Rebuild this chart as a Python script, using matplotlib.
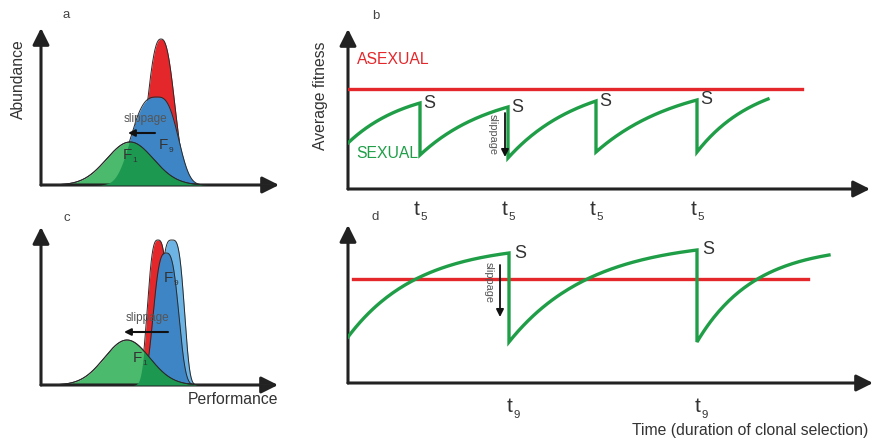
import numpy as np
import matplotlib
matplotlib.use("Agg")
import matplotlib.pyplot as plt

plt.rcParams['font.family'] = ['Liberation Sans', 'DejaVu Sans']

# ---------------- data (schematic units measured from each panel origin) ----
# panel a: distributions (red = asexual, blue = clone F9, green = sexual F1)
a_centers = [120, 116, 89]
a_heights = [146, 88, 43]
a_sig_left = [17, 31, 33]
a_sig_right = [17, 25, 33]
a_powers = [2.5, 3, 2]

# panel c: red, light blue, dark blue, green
c_centers = [117, 131, 125, 86]
c_heights = [145, 145, 132, 45]
c_sig_left = [12.5, 14, 15, 32]
c_sig_right = [12.5, 14, 15, 32]
c_powers = [3, 3.5, 3, 2]

# panel b: sawtooth of sexual fitness, constant asexual fitness
b_drop_times = [72, 160, 248, 349]
b_end_time = 420
b_start = 46
b_peaks = [86, 82, 88, 89, 90]
b_troughs = [34, 31, 37, 37]
b_asexual = 100
b_asexual_span = [0, 454]
b_tick_subs = ['5', '5', '5', '5']

# panel d
d_drop_times = [161, 349]
d_end_time = 481
d_start = 46
d_peaks = [130, 133, 128]
d_troughs = [41, 41]
d_asexual = 104
d_asexual_span = [5, 460]
d_tick_subs = ['9', '9']

RED = '#e4272b'
GREEN_LINE = '#1f9e47'
GREEN_FILL = '#4cba6d'
GREEN_DARK = '#1c9850'
BLUE = '#3e85c6'
LBLUE = '#6db3e3'
EDGE = '#2a2a2a'
AXC = '#222222'
TXT = '#333333'

W, H = 875, 442
fig = plt.figure(figsize=(W / 100, H / 100), dpi=100)


def panel(ox, oy, w, h):
    ax = fig.add_axes([ox / W, 1 - oy / H, w / W, h / H])
    ax.set_xlim(0, w)
    ax.set_ylim(0, h)
    ax.axis('off')
    for tip in [(w, 0), (0, h)]:
        ax.annotate('', xy=tip, xytext=(0, 0), annotation_clip=False,
                    arrowprops=dict(arrowstyle='-|>', lw=2.2, color=AXC,
                                    mutation_scale=25, shrinkA=0, shrinkB=0))
    return ax


def subtext(ax, x, y, base, sub, size, ha='center', dx=None):
    ax.text(x, y, base, fontsize=size, color=TXT, ha=ha, va='center', zorder=6)
    if dx is None:
        dx = 0.16 * size if ha == 'center' else 0.62 * size
    ax.annotate(sub, xy=(x, y), xytext=(dx, -0.36 * size), textcoords='offset points',
                annotation_clip=False, fontsize=size * 0.55, color=TXT,
                ha='left', va='center', zorder=6)


def bump(x, c, h, sl, sr, p):
    s = np.where(x < c, sl, sr)
    return h * np.exp(-np.abs((x - c) / s) ** p)


def sawtooth(start, drops, end, peaks, troughs, k):
    xs, ys = [], []
    t0, v0 = 0, start
    times = list(drops) + [end]
    for i, t1 in enumerate(times):
        s = np.linspace(0, 1, 80)
        f = (1 - np.exp(-k * s)) / (1 - np.exp(-k))
        xs.extend(t0 + (t1 - t0) * s)
        ys.extend(v0 + (peaks[i] - v0) * f)
        if i < len(drops):
            t0, v0 = t1, troughs[i]
            xs.append(t0)
            ys.append(v0)
    return np.array(xs), np.array(ys)


# ---------------- panel a ----------------
axa = panel(41, 185, 238, 157)
x = np.linspace(0, 230, 800)
ya = [bump(x, a_centers[i], a_heights[i], a_sig_left[i], a_sig_right[i], a_powers[i])
      for i in range(3)]
for y, col in zip(ya, [RED, BLUE, GREEN_FILL]):
    axa.fill_between(x, 0, y, color=col, lw=0, zorder=2)
    axa.plot(x, y, color=EDGE, lw=0.7, zorder=2)
over = np.minimum(ya[2], np.maximum(ya[0], ya[1]))
axa.fill_between(x, 0, over, color=GREEN_DARK, lw=0, zorder=3)
axa.plot(x, ya[2], color=EDGE, lw=0.7, zorder=3)
axa.text(25, 170, 'a', fontsize=9.5, color='#444', ha='center', va='center')
axa.text(-23, 106, 'Abundance', rotation=90, fontsize=11.3, color=TXT,
         ha='center', va='center')
axa.text(104, 66, 'slippage', fontsize=8.5, color='#555', ha='center', va='center', zorder=5)
axa.annotate('', xy=(87, 52), xytext=(114, 52),
             arrowprops=dict(arrowstyle='-|>', lw=1.5, color='#111',
                             mutation_scale=10, shrinkA=0, shrinkB=0), zorder=5)
subtext(axa, 118, 40, 'F', '9', 11, ha='left')
subtext(axa, 82, 30, 'F', '1', 11, ha='left')

# ---------------- panel c ----------------
axc = panel(41, 385, 237, 158)
yc = [bump(x, c_centers[i], c_heights[i], c_sig_left[i], c_sig_right[i], c_powers[i])
      for i in range(4)]
for y, col in zip(yc, [RED, LBLUE, BLUE, GREEN_FILL]):
    axc.fill_between(x, 0, y, color=col, lw=0, zorder=2)
    axc.plot(x, y, color=EDGE, lw=0.7, zorder=2)
overc = np.minimum(yc[3], np.maximum.reduce(yc[:3]))
axc.fill_between(x, 0, overc, color=GREEN_DARK, lw=0, zorder=3)
axc.plot(x, yc[3], color=EDGE, lw=0.7, zorder=3)
axc.text(26, 167, 'c', fontsize=9.5, color='#444', ha='center', va='center')
axc.text(106, 67, 'slippage', fontsize=8.5, color='#555', ha='center', va='center', zorder=5)
axc.annotate('', xy=(83, 53), xytext=(127, 53),
             arrowprops=dict(arrowstyle='-|>', lw=1.5, color='#111',
                             mutation_scale=10, shrinkA=0, shrinkB=0), zorder=5)
subtext(axc, 123, 107, 'F', '9', 11, ha='left')
subtext(axc, 92, 27, 'F', '1', 11, ha='left')
axc.text(192, -15, 'Performance', fontsize=11.3, color=TXT, ha='center', va='center')

# ---------------- panel b ----------------
axb = panel(348, 189, 522, 160)
axb.plot(b_asexual_span, [b_asexual, b_asexual], color=RED, lw=2.4, zorder=3)
xb, yb = sawtooth(b_start, b_drop_times, b_end_time, b_peaks, b_troughs, 1.2)
axb.plot(xb, yb, color=GREEN_LINE, lw=2.4, solid_joinstyle='miter', zorder=4)
for t, v in zip(b_drop_times, b_peaks):
    axb.text(t + 3, v, 'S', fontsize=13, color=TXT, va='center', ha='left')
for t, sub in zip(b_drop_times, b_tick_subs):
    subtext(axb, t - 3, -20, 't', sub, 15)
axb.text(28, 173, 'b', fontsize=9.5, color='#444', ha='center', va='center')
axb.text(-28, 93, 'Average fitness', rotation=90, fontsize=11.3, color=TXT,
         ha='center', va='center')
axb.text(9, 130, 'ASEXUAL', fontsize=11.3, color=RED, ha='left', va='center')
axb.text(8, 35, 'SEXUAL', fontsize=11.3, color=GREEN_LINE, ha='left', va='center')
axb.annotate('', xy=(157, 32), xytext=(157, 76),
             arrowprops=dict(arrowstyle='-|>', lw=1.3, color='#111',
                             mutation_scale=11, shrinkA=0, shrinkB=0), zorder=5)
axb.text(145, 54, 'slippage', rotation=-90, fontsize=7.8, color='#555',
         ha='center', va='center')

# ---------------- panel d ----------------
axd = panel(348, 383, 525, 158)
axd.plot(d_asexual_span, [d_asexual, d_asexual], color=RED, lw=2.4, zorder=3)
xd, yd = sawtooth(d_start, d_drop_times, d_end_time, d_peaks, d_troughs, 2.3)
axd.plot(xd, yd, color=GREEN_LINE, lw=2.4, solid_joinstyle='miter', zorder=4)
for t, v in zip(d_drop_times, d_peaks):
    axd.text(t + 5, v, 'S', fontsize=13, color=TXT, va='center', ha='left')
for t, sub in zip(d_drop_times, d_tick_subs):
    subtext(axd, t + 1, -24, 't', sub, 15)
axd.text(27, 166, 'd', fontsize=9.5, color='#444', ha='center', va='center')
axd.annotate('', xy=(152, 66), xytext=(152, 118),
             arrowprops=dict(arrowstyle='-|>', lw=1.3, color='#111',
                             mutation_scale=11, shrinkA=0, shrinkB=0), zorder=5)
axd.text(141, 100, 'slippage', rotation=-90, fontsize=7.8, color='#555',
         ha='center', va='center')
axd.text(520, -48, 'Time (duration of clonal selection)', fontsize=11.3,
         color=TXT, ha='right', va='center')

fig.savefig('out.png', dpi=100)
